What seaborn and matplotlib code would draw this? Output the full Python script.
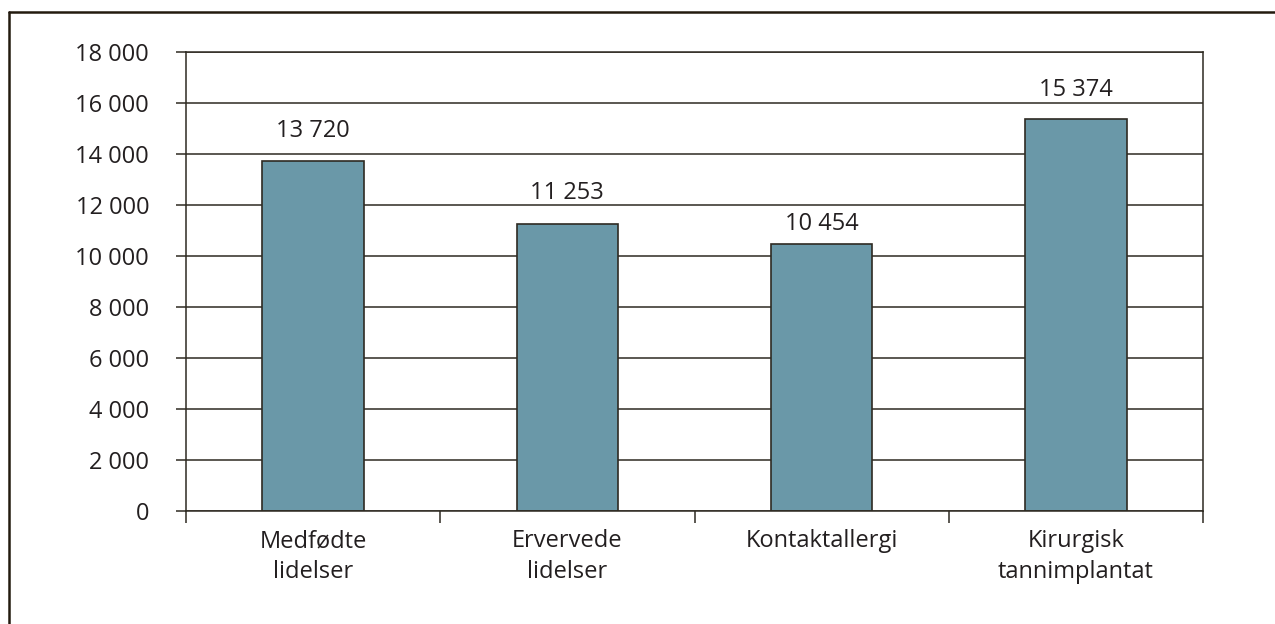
import matplotlib
matplotlib.use("Agg")
import matplotlib.pyplot as plt
import seaborn as sns
import pandas as pd
from matplotlib.ticker import FixedLocator, FuncFormatter
from matplotlib.lines import Line2D

categories = ["Medfødte\nlidelser", "Ervervede\nlidelser", "Kontaktallergi", "Kirurgisk\ntannimplantat"]
values = [13720, 11253, 10454, 15374]
yticks = [0, 2000, 4000, 6000, 8000, 10000, 12000, 14000, 16000, 18000]
# gap in pixels between each bar top and its value label (as placed in the original)
label_gaps_px = [24, 25, 14, 23]

sns.set_theme(style="white")
plt.rcParams['font.family'] = ['Open Sans', 'DejaVu Sans']
txt = "#231f20"
linec = "#2e2a22"
barc = "#6a98a8"
fs = 17

df = pd.DataFrame({"cat": categories, "val": values})

fig = plt.figure(figsize=(12.75, 6.24), dpi=100)
ax = fig.add_axes([186/1275, 1 - 511/624, (1203-186)/1275, (511-52)/624])

sns.barplot(data=df, x="cat", y="val", color=barc, edgecolor=linec, linewidth=1.2,
            width=0.4, saturation=1, ax=ax)

ax.set_xlim(-0.5, len(categories) - 0.5)
ax.set_ylim(0, 18000)
ax.set_xlabel("")
ax.set_ylabel("")
ax.set_yticks(yticks)
ax.yaxis.set_major_formatter(FuncFormatter(lambda v, p: f"{int(v):,}".replace(",", " ")))
ax.grid(axis="y", color=linec, linewidth=1.1)
ax.set_axisbelow(True)
for s in ax.spines.values():
    s.set_color(linec)
    s.set_linewidth(1.1)
ax.tick_params(axis="y", which="major", left=True, length=7.5, width=1.1, color=linec,
               labelsize=fs, labelcolor=txt, pad=19)
ax.tick_params(axis="x", which="major", bottom=False, length=0, labelsize=fs, labelcolor=txt, pad=13)
ax.xaxis.set_minor_locator(FixedLocator([i - 0.5 for i in range(len(categories) + 1)]))
ax.tick_params(axis="x", which="minor", bottom=True, length=8.6, width=1.1, color=linec)
for lbl in ax.get_xticklabels():
    lbl.set_linespacing(1.4)

for i, v in enumerate(values):
    ax.annotate(f"{v:,}".replace(",", " "), (i, v), xytext=(0, label_gaps_px[i] * 0.72),
                textcoords="offset points", ha="center", va="baseline", fontsize=fs, color=txt)

# figure frame (left and top visible)
fig.add_artist(Line2D([9/1275, 9/1275], [0, 1 - 12/624], transform=fig.transFigure,
                      color="#231a0f", linewidth=1.8))
fig.add_artist(Line2D([9/1275, 1], [1 - 12/624, 1 - 12/624], transform=fig.transFigure,
                      color="#231a0f", linewidth=1.8))

fig.savefig("out.png", dpi=100)
